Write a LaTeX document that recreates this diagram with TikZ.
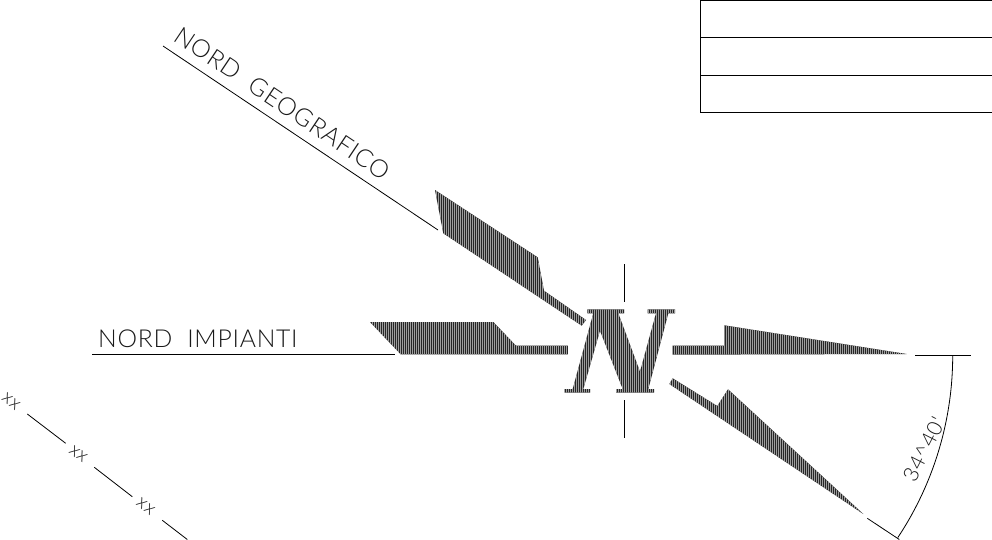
\documentclass[tikz,border=0pt]{standalone}
\usepackage{fontspec}
\newfontfamily\cadfont[WordSpace=2,LetterSpace=3]{Lato Light}
\newfontfamily\cadxx[LetterSpace=4]{Lato Light}
\newcommand{\hatchfill}[3]{%
  \begin{scope}
    \clip #1;
    \fill[black!85] (#2,0) rectangle (#3,540);
    \foreach \hi in {0,2,...,240} {\draw[white!62!black,line width=.4pt] (#2+\hi,0) -- (#2+\hi,540);}
  \end{scope}}
\tikzset{
  thinline/.style={draw=black,line width=.8pt},
  cadtext/.style={inner sep=0pt,font=\cadfont\fontsize{24.7}{25}\selectfont,text=black!90},
  cadsmall/.style={inner sep=0pt,font=\cadxx\fontsize{19}{19}\selectfont,text=black!90}
}
\begin{document}
\begin{tikzpicture}[x=1pt,y=-1pt]
\useasboundingbox (0,0) rectangle (992,540);
\clip (0,0) rectangle (992,540);
\fill[white] (0,0) rectangle (992,540);
% table
\draw[thinline] (992,0.4) -- (700,0.4) -- (700,112.3) -- (992,112.3);
\draw[thinline] (700,37.3) -- (992,37.3);
\draw[thinline] (700,75) -- (992,75);
% arrows
\hatchfill{(435,190) -- (537.7,257.3) -- (544,290.7) -- (586,320) -- (581.7,325.7) -- (443.3,233.3) -- cycle}{434}{588}
\hatchfill{(370,322) -- (493.3,322) -- (516,345.7) -- (568,345.7) -- (568,354.3) -- (400.7,354.3) -- cycle}{370}{568}
\hatchfill{(724.3,325.3) -- (906.7,354) -- (672.7,354.7) -- (672.7,345.7) -- (724.3,345.7) -- cycle}{672}{908}
\hatchfill{(672.7,378.3) -- (717.3,406) -- (728,389.3) -- (863.3,514) -- (669.3,384) -- cycle}{668}{864}
% the N
\hatchfill{(587.3,309.3) -- (624,309.3) -- (624,313.3) -- (618.3,313.3) -- (640,371.7) -- (656,313.3) -- (647.7,313.3) -- (647.7,309.3) -- (675,309.3) -- (675,313.3) -- (668.3,313.3) -- (648.3,389) -- (654,389) -- (654,392.7) -- (616,392.7) -- (616,389) -- (622.7,389) -- (600,330.7) -- (583.3,389) -- (590,389) -- (590,392.7) -- (564.7,392.7) -- (564.7,389) -- (572.7,389) -- (593.3,313.3) -- (587.3,313.3) -- cycle}{564}{676}
% centre cross
\coordinate (vtA) at (624.3,264); \coordinate (vtB) at (624.3,302);
\coordinate (vbA) at (624.3,400); \coordinate (vbB) at (624.3,438);
\draw[thinline] (vtA) -- (vtB);
\draw[thinline] (vbA) -- (vbB);
% leaders
\coordinate (geoA) at (163,46); \coordinate (geoB) at (438,230);
\draw[thinline] (geoA) -- (geoB);
\coordinate (impA) at (92,354); \coordinate (impB) at (395,354);
\draw[thinline] (impA) -- (impB);
\coordinate (dimA) at (915,355.7); \coordinate (dimB) at (971,355.7);
\draw[thinline] (dimA) -- (dimB);
\coordinate (dimC) at (867.3,518.3); \coordinate (dimD) at (899.3,539.5);
\draw[thinline] (dimC) -- (dimD);
\draw[thinline] plot[domain=0:33.6,samples=40,smooth] ({624+328.7*cos(\x)},{355.7+328.7*sin(\x)});
% texts
\node[cadtext,anchor=base west,rotate=-33.8] (geo) at (172.7,40) {NORD GEOGRAFICO};
\node[cadtext,anchor=base west] (imp) at (98,347.7) {NORD IMPIANTI};
\node[cadtext,font=\cadfont\fontsize{21}{21}\selectfont,rotate=63] (ang) at (924,449.3) {34\textasciicircum 40'};
% dashed line with xx
\node[cadsmall,rotate=-38] (x1) at (11,401.7) {xx};
\node[cadsmall,rotate=-38] (x2) at (78.3,454) {xx};
\node[cadsmall,rotate=-38] (x3) at (145.7,506.7) {xx};
\coordinate (l1a) at (27.3,414); \coordinate (l1b) at (65.7,443.3);
\coordinate (l2a) at (94.3,467.3); \coordinate (l2b) at (132.3,496.7);
\coordinate (l3a) at (162.3,520.3); \coordinate (l3b) at (187.3,539.5);
\draw[thinline] (l1a) -- (l1b);
\draw[thinline] (l2a) -- (l2b);
\draw[thinline] (l3a) -- (l3b);
\end{tikzpicture}
\end{document}
